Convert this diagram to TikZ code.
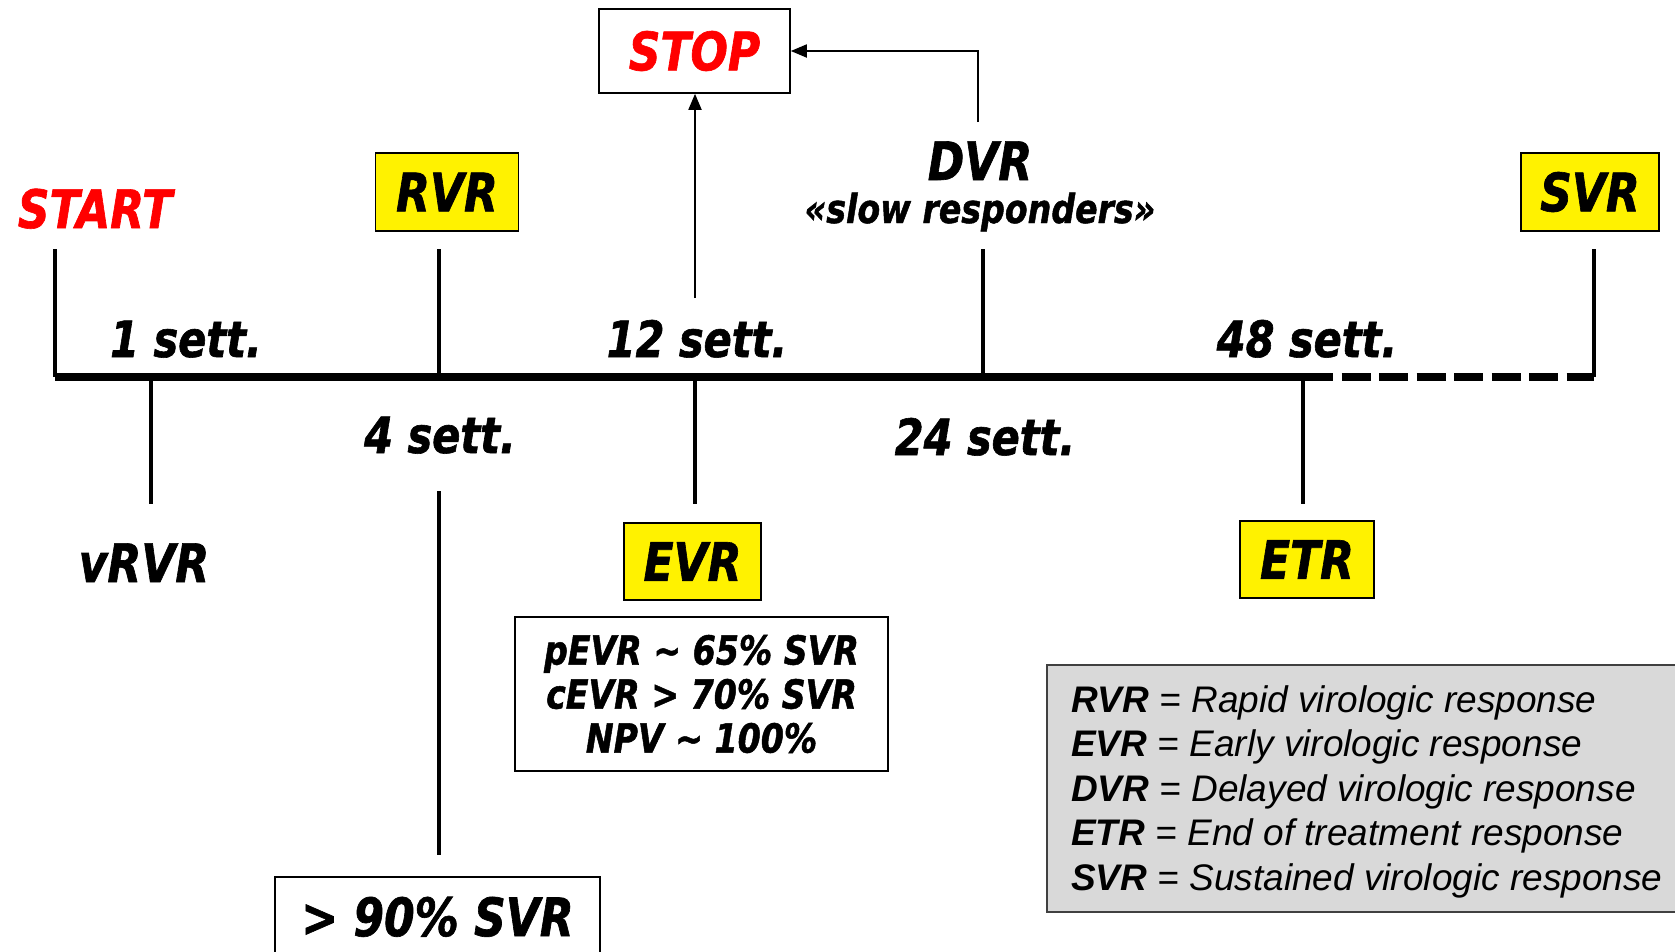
\documentclass[tikz,border=0pt]{standalone}
\usepackage{fontspec}
\newfontfamily\tahoma{DejaVu Sans}[FakeStretch=0.83,BoldItalicFeatures={FakeBold=1.2}]
\newfontfamily\arialf{Liberation Sans}
\usetikzlibrary{arrows.meta}
\definecolor{leggray}{RGB}{217,217,217}

\begin{document}
\begin{tikzpicture}[x=1pt,y=-1pt,>={Triangle[length=16pt,width=13pt]},
  bigfont/.style={font=\tahoma\bfseries\itshape\fontsize{53}{60}\selectfont},
  lbl/.style={bigfont,inner sep=0pt,anchor=base},
  settlbl/.style={font=\tahoma\bfseries\itshape\fontsize{50}{56}\selectfont,inner sep=0pt,anchor=base},
  ybox/.style={bigfont,draw,line width=1.8pt,fill=yellow,inner sep=0pt},
  wbox/.style={draw,line width=1.6pt,fill=white,inner sep=0pt},
  tick/.style={line width=4pt},
  axis/.style={line width=7.5pt},
  conn/.style={->,line width=1.8pt},
  leg/.style={font=\arialf\itshape\fontsize{37}{44}\selectfont,inner sep=0pt,anchor=base west}]
\useasboundingbox (0,0) rectangle (1675,951);
% ---- tick end points ----
\foreach \n/\xx in {start/55,rvr/439,dvr/983,svr/1594} {
  \coordinate (\n-top) at (\xx,249);
  \coordinate (\n-ax) at (\xx,377);
}
\foreach \n/\xx in {vrvr/151,evr/695,etr/1303} {
  \coordinate (\n-ax) at (\xx,377);
  \coordinate (\n-bot) at (\xx,504);
}
\coordinate (dash-on) at (1333,377);
% ---- time axis (dashed after 48 weeks) ----
\draw[axis] (start-ax) -- (dash-on);
\draw[axis,dash pattern=on 29pt off 8.5pt,dash phase=29pt] (dash-on) -- (svr-ax);
\foreach \n in {start,rvr,dvr,svr} \draw[tick] (\n-top) -- (\n-ax);
\foreach \n in {vrvr,evr,etr} \draw[tick] (\n-ax) -- (\n-bot);
\coordinate (w4-top) at (439,491);
\coordinate (w4-bot) at (439,855);
\draw[tick] (w4-top) -- (w4-bot);
% ---- labels above the axis ----
\node[lbl,text=red] (start) at (95,228) {START};
\node[ybox,minimum width=143pt,minimum height=78pt] (rvr) at (447,192) {RVR};
\node[ybox,minimum width=138pt,minimum height=78pt] (svr) at (1590,192) {SVR};
\node[lbl] (dvr) at (980,180) {DVR};
\node[lbl,font=\tahoma\bfseries\itshape\fontsize{40}{44}\selectfont] (slow) at (980,223) {«slow responders»};
\node[wbox,bigfont,text=red,minimum width=191pt,minimum height=84pt] (stop) at (694.5,51) {STOP};
\node[settlbl] (w1) at (186,357) {1 sett.};
\node[settlbl] (w12) at (697,357) {12 sett.};
\node[settlbl] (w48) at (1307,357) {48 sett.};
% ---- labels below the axis ----
\node[settlbl] (w4) at (440,453) {4 sett.};
\node[settlbl] (w24) at (985,455) {24 sett.};
\node[lbl] (vrvr) at (144,582) {vRVR};
\node[ybox,minimum width=137pt,minimum height=77pt] (evr) at (692.5,561.5) {EVR};
\node[ybox,minimum width=134pt,minimum height=77pt] (etr) at (1307,559.5) {ETR};
\node[wbox,align=center,minimum width=373pt,minimum height=154pt,
  font=\tahoma\bfseries\itshape\fontsize{40}{44}\selectfont] (pevr) at (701.5,694)
  {pEVR \textasciitilde{} 65\% SVR\\cEVR > 70\% SVR\\NPV \textasciitilde{} 100\%};
\node[wbox,bigfont,anchor=north,minimum width=325pt,inner ysep=20pt] (svr90) at (437.5,876) {> 90\% SVR};
% ---- stopping rules ----
\coordinate (stop-src) at (695,298);
\coordinate (dvr-src) at (978,122);
\draw[conn] (stop-src) -- (stop-src |- stop.south);
\draw[conn] (dvr-src) |- (stop.east);
% ---- legend ----
\draw[fill=leggray,draw=black!75,line width=2pt] (1047,665) rectangle (1700,912);
\foreach \ab/\txt [count=\i from 0] in {RVR/Rapid virologic response,EVR/Early virologic response,
  DVR/Delayed virologic response,ETR/End of treatment response,SVR/Sustained virologic response}
  \node[leg] (leg-\ab) at (1071,712+44.5*\i) {\textbf{\ab} = \txt};
\end{tikzpicture}
\end{document}
